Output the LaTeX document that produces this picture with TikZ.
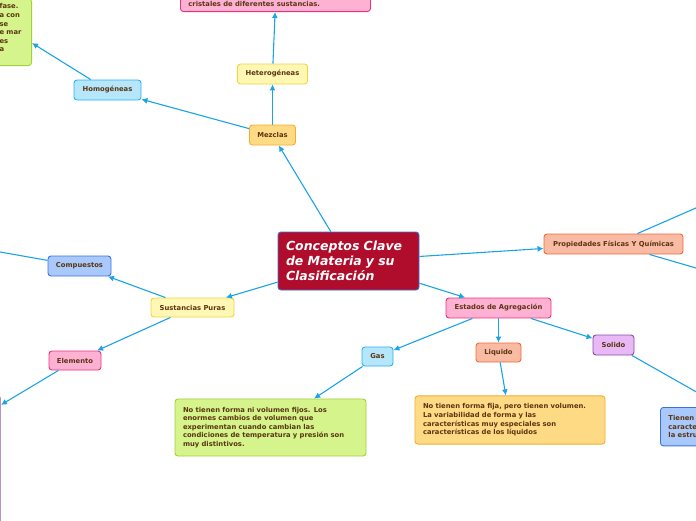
\documentclass[tikz,border=0pt]{standalone}
\usepackage{fontspec}
\setmainfont{DejaVu Sans}
\usetikzlibrary{arrows.meta,positioning,calc}

\definecolor{linkblue}{HTML}{1BA3E6}
\definecolor{txtbrown}{HTML}{5A3511}
\definecolor{rootred}{HTML}{B00C2B}
\definecolor{rootedge}{HTML}{3F6FD8}
\definecolor{yelfill}{HTML}{FFF7B3}
\definecolor{yeledge}{HTML}{EED63E}
\definecolor{orafill}{HTML}{FFDA85}
\definecolor{oraedge}{HTML}{F2AE2E}
\definecolor{cyafill}{HTML}{B5E6FB}
\definecolor{cyaedge}{HTML}{2AB2F0}
\definecolor{blufill}{HTML}{A9C9FC}
\definecolor{bluedge}{HTML}{3B72DA}
\definecolor{pinfill}{HTML}{FFB1D3}
\definecolor{pinedge}{HTML}{E8337C}
\definecolor{grefill}{HTML}{D5F58C}
\definecolor{greedge}{HTML}{A3D03C}
\definecolor{salfill}{HTML}{F9BBA3}
\definecolor{saledge}{HTML}{F06A3C}
\definecolor{purfill}{HTML}{E9B9F7}
\definecolor{puredge}{HTML}{8A4AA6}

\begin{document}
\begin{tikzpicture}[x=1pt,y=-1pt,>={Latex[length=6pt,width=6pt]},
  box/.style={draw,rounded corners=3pt,line width=0.9pt,inner sep=0pt,
    text=txtbrown,font=\fontsize{6.8}{8}\selectfont\bfseries},
  note/.style={box,inner sep=8pt,align=left,
    font=\fontsize{6.8}{8.6}\selectfont\bfseries},
  link/.style={draw=linkblue,line width=1.1pt,->}]
  \useasboundingbox (0,0) rectangle (696,520);
  \clip (0,0) rectangle (696,520);

  \node[box,fill=rootred,draw=rootedge,text=white,minimum width=141pt,minimum height=58pt,
    text width=125pt,align=left,font=\fontsize{12.5}{15}\selectfont\bfseries\itshape]
    (root) at (348.5,261) {Conceptos Clave\\de Materia y su\\Clasificación};

  \node[box,fill=orafill,draw=oraedge,minimum width=46pt,minimum height=20pt] (mezclas) at (272.5,135) {Mezclas};
  \node[box,fill=yelfill,draw=yeledge,minimum width=70pt,minimum height=20pt] (hetero) at (272.5,74) {Heterogéneas};
  \node[box,fill=cyafill,draw=cyaedge,minimum width=67pt,minimum height=20pt] (homo) at (107.5,90) {Homogéneas};
  \node[note,fill=pinfill,draw=pinedge,text width=174pt,anchor=south west,inner ysep=5pt] (heteronote) at (180,12) {cristales de diferentes sustancias.};
  \node[note,fill=grefill,draw=greedge,text width=30pt,anchor=south east,inner xsep=2pt,inner ysep=5pt] (homonote) at (32,66)
    {fase.\\a con\\se\\e mar\\es\\a\\~};

  \node[box,fill=yelfill,draw=yeledge,minimum width=83pt,minimum height=19pt] (puras) at (192.5,307.5) {Sustancias Puras};
  \node[box,fill=blufill,draw=bluedge,minimum width=63pt,minimum height=20pt] (compuestos) at (79.5,266) {Compuestos};
  \node[box,fill=pinfill,draw=pinedge,minimum width=52pt,minimum height=19pt] (elemento) at (75,360.5) {Elemento};
  \node[box,fill=purfill!40,draw=puredge!60,minimum width=244pt,minimum height=165pt,anchor=north east] (elemnote) at (1,395) {};
  \coordinate (compout) at (-60,241.4);

  \node[box,fill=salfill,draw=saledge,minimum width=139pt,minimum height=20pt] (propiedades) at (613.5,244) {Propiedades Físicas Y Químicas};
  \coordinate (propup) at (760,180);
  \coordinate (propdown) at (760,286.6);

  \node[box,fill=pinfill,draw=pinedge,minimum width=105pt,minimum height=20pt] (estados) at (498.5,308) {Estados de Agregación};
  \node[box,fill=cyafill,draw=cyaedge,minimum width=31pt,minimum height=19pt] (gas) at (377.5,356.5) {Gas};
  \node[box,fill=salfill,draw=saledge,minimum width=45pt,minimum height=19pt] (liquido) at (498.5,352.5) {Liquido};
  \node[box,fill=purfill,draw=puredge,minimum width=41pt,minimum height=20pt] (solido) at (613.5,345) {Solido};
  \coordinate (solout) at (760,428);

  \node[note,fill=grefill,draw=greedge,text width=175pt,minimum height=53pt] (gasnote) at (270.5,427.5)
    {No tienen forma ni volumen fijos. Los\\enormes cambios de volumen que\\experimentan cuando cambian las\\condiciones de temperatura y presión son\\muy distintivos.};
  \node[note,fill=orafill,draw=oraedge,text width=174pt,minimum height=44pt] (liqnote) at (510,420)
    {No tienen forma fija, pero tienen volumen.\\La variabilidad de forma y las\\características muy especiales son\\características de los líquidos};
  \node[note,fill=blufill,draw=bluedge,text width=80pt,minimum height=36pt,anchor=north west] (solnote) at (660,407)
    {Tienen\\caracte\\la estru};

  \draw[link] (root) -- (mezclas);
  \draw[link] (mezclas) -- (hetero);
  \draw[link] (hetero) -- (heteronote);
  \draw[link] (mezclas) -- (homo);
  \draw[link] (homo) -- (homonote);
  \draw[link] (root) -- (puras);
  \draw[link] (puras) -- (compuestos);
  \draw[link] (compuestos) -- (compout);
  \draw[link] (puras) -- (elemento);
  \draw[link] (elemento) -- (elemnote);
  \draw[link] (root) -- (propiedades);
  \draw[link] (propiedades) -- (propup);
  \draw[link] (propiedades) -- (propdown);
  \draw[link] (root) -- (estados);
  \draw[link] (estados) -- (gas);
  \draw[link] (estados) -- (liquido);
  \draw[link] (estados) -- (solido);
  \draw[link] (gas) -- (gasnote);
  \draw[link] (liquido) -- (liqnote);
  \draw[link] (solido) -- (solout);
\end{tikzpicture}
\end{document}
